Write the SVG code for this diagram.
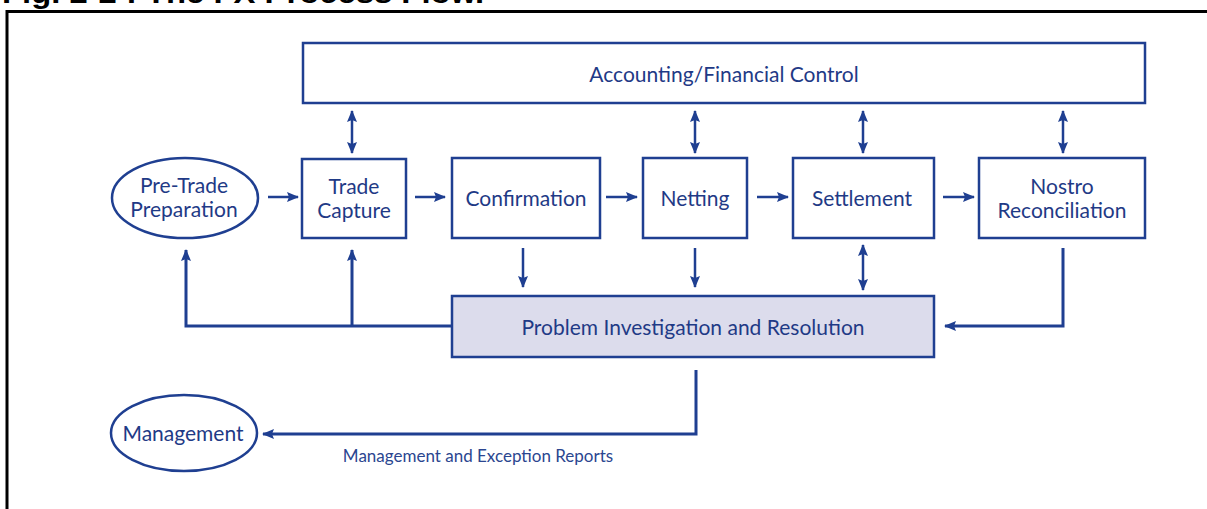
<svg xmlns="http://www.w3.org/2000/svg" width="1207" height="509" viewBox="0 0 1207 509">
<defs>
<style>
.frame{fill:none;stroke:#000;stroke-width:3}
.box{fill:#fff;stroke:#1f3f91;stroke-width:2.5}
.pbox{fill:#dcdcec;stroke:#1f3f91;stroke-width:2.5}
.t{font-family:Lato,"Liberation Sans",sans-serif;font-size:21px;fill:#1f3a86;text-anchor:middle}
.small{font-family:Lato,"Liberation Sans",sans-serif;font-size:17px;fill:#2b4690;text-anchor:middle}
.title{font-family:"Liberation Sans",Arial,sans-serif;font-weight:bold;font-size:30px;fill:#000}
.c{fill:none;stroke:#1f3f91;stroke-width:3}
.cs{fill:none;stroke:#1f3f91;stroke-width:2.5}
</style>
<marker id="ah" markerUnits="userSpaceOnUse" markerWidth="12" markerHeight="10" refX="11" refY="5" orient="auto-start-reverse" viewBox="0 0 12 10">
<path d="M0,0 L12,5 L0,10 L2,5 z" fill="#1f3f91"/>
</marker>
</defs>

<text class="title" x="2" y="3" textLength="482" lengthAdjust="spacingAndGlyphs">Fig. 2-2 : The FX Process Flow.</text>
<path class="frame" d="M7,509 V11.5 H1207"/>

<g id="accounting">
<rect class="box" x="303" y="43" width="842" height="60"/>
<text class="t" x="724" y="82">Accounting/Financial Control</text>
</g>

<g id="pretrade">
<ellipse class="box" cx="185" cy="198" rx="73" ry="40"/>
<text class="t" x="184" y="193">Pre-Trade</text>
<text class="t" x="184" y="217">Preparation</text>
</g>

<g id="tradecapture">
<rect class="box" x="302" y="159" width="104" height="79"/>
<text class="t" x="354" y="194">Trade</text>
<text class="t" x="354" y="218">Capture</text>
</g>

<g id="confirmation">
<rect class="box" x="452" y="158" width="148" height="80"/>
<text class="t" x="526" y="206">Confirmation</text>
</g>

<g id="netting">
<rect class="box" x="643" y="158" width="104" height="80"/>
<text class="t" x="695" y="206">Netting</text>
</g>

<g id="settlement">
<rect class="box" x="793" y="158" width="141" height="80"/>
<text class="t" x="862" y="206">Settlement</text>
</g>

<g id="nostro">
<rect class="box" x="979" y="158" width="166" height="80"/>
<text class="t" x="1062" y="194">Nostro</text>
<text class="t" x="1062" y="218">Reconciliation</text>
</g>

<g id="problem">
<rect class="pbox" x="452" y="296" width="482" height="61"/>
<text class="t" x="693" y="335">Problem Investigation and Resolution</text>
</g>

<g id="management">
<ellipse class="box" cx="184" cy="433" rx="73" ry="38"/>
<text class="t" x="183" y="441">Management</text>
</g>

<g id="connectors">
<path class="cs" d="M268,197 H298" marker-end="url(#ah)"/>
<path class="cs" d="M415,197 H445" marker-end="url(#ah)"/>
<path class="cs" d="M606,197 H637" marker-end="url(#ah)"/>
<path class="cs" d="M757,197 H788" marker-end="url(#ah)"/>
<path class="cs" d="M943,197 H974" marker-end="url(#ah)"/>
<path class="cs" d="M352,111 V153" marker-start="url(#ah)" marker-end="url(#ah)"/>
<path class="cs" d="M695,111 V153" marker-start="url(#ah)" marker-end="url(#ah)"/>
<path class="cs" d="M863,111 V153" marker-start="url(#ah)" marker-end="url(#ah)"/>
<path class="cs" d="M1063,111 V153" marker-start="url(#ah)" marker-end="url(#ah)"/>
<path class="cs" d="M523,248 V287" marker-end="url(#ah)"/>
<path class="cs" d="M695,248 V287" marker-end="url(#ah)"/>
<path class="cs" d="M863,245 V290" marker-start="url(#ah)" marker-end="url(#ah)"/>
<path class="c" d="M1063,248 V326 H945" marker-end="url(#ah)"/>
<path class="c" d="M452,326 H186 V250" marker-end="url(#ah)"/>
<path class="c" d="M352,326 V250" marker-end="url(#ah)"/>
<path class="c" d="M696,370 V434 H263" marker-end="url(#ah)"/>
<text class="small" x="478" y="462">Management and Exception Reports</text>
</g>
</svg>
